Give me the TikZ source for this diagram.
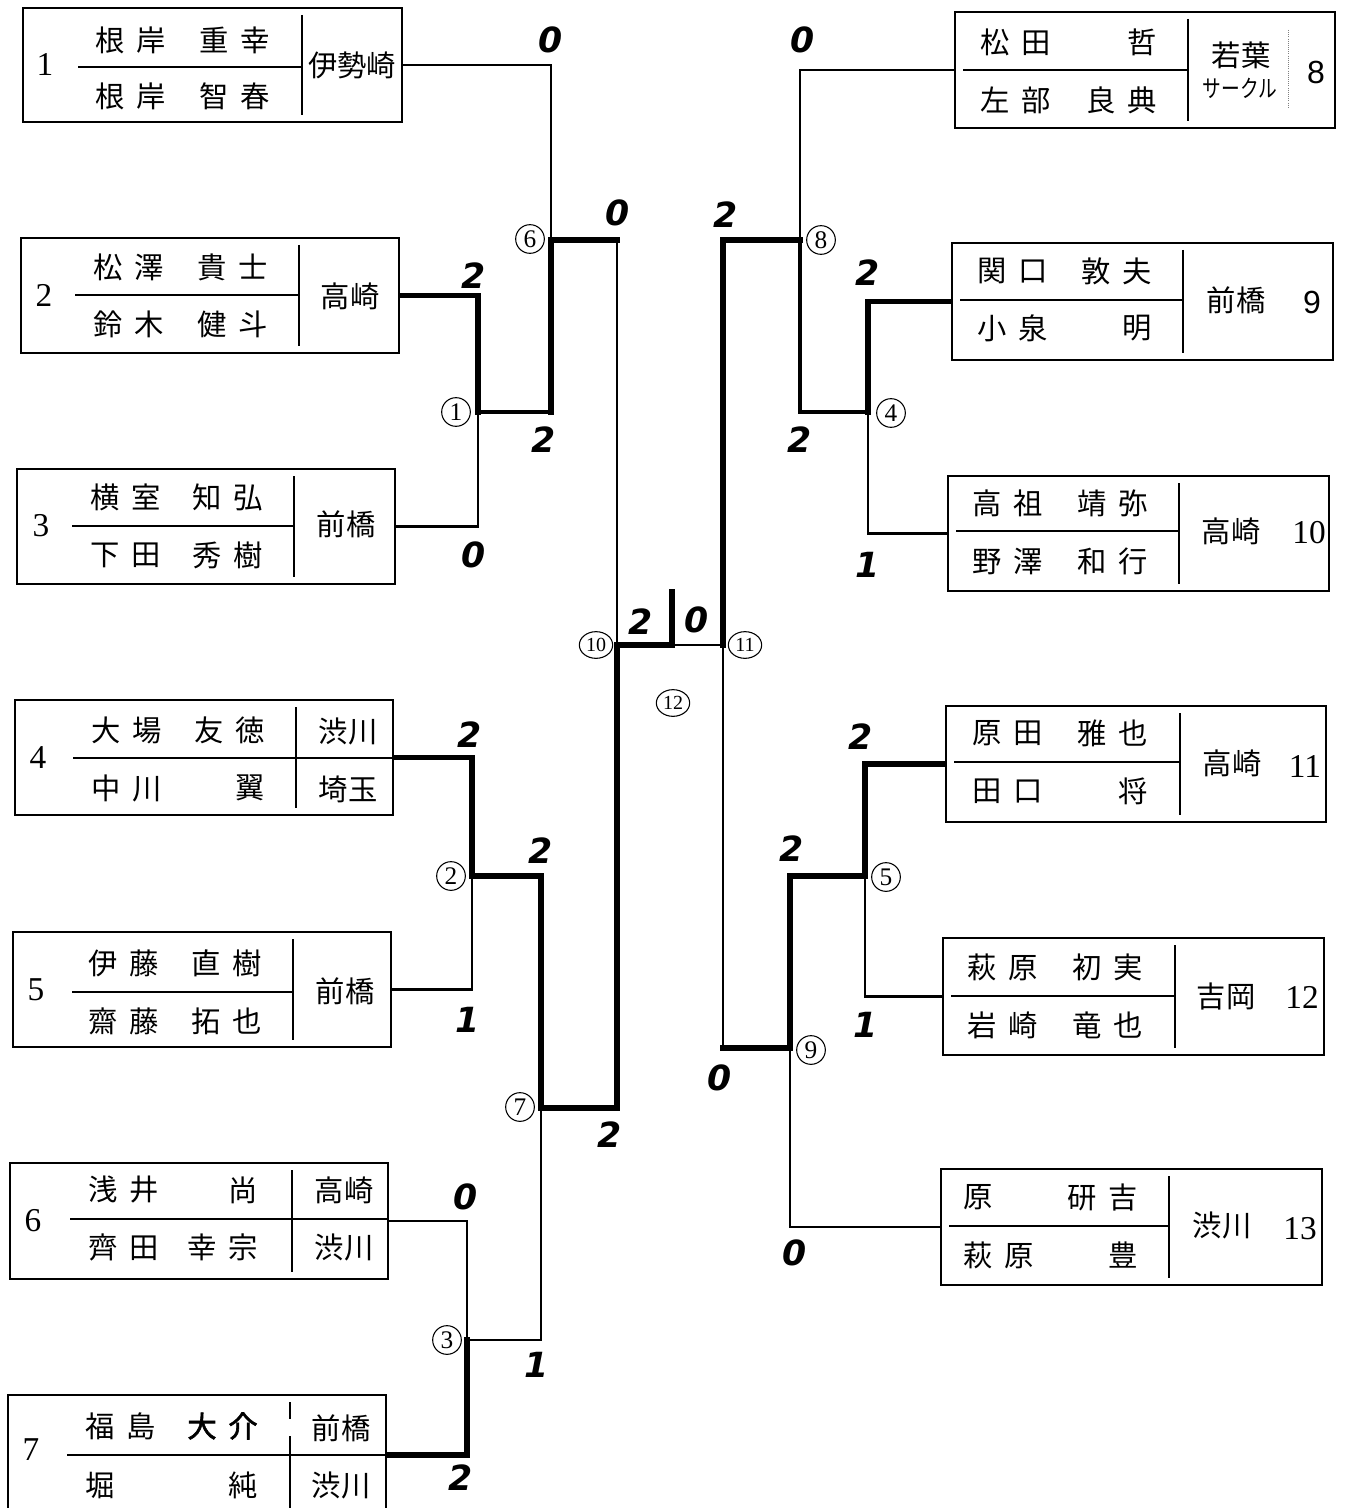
\documentclass[tikz,border=0pt]{standalone}
\usepackage{fontspec}
\usepackage{graphicx}
\usetikzlibrary{fit,shapes.geometric}
\newfontfamily\jp{Noto Sans CJK JP}
\newfontfamily\jpb{Noto Sans CJK JP}[FakeBold=2]
\newfontfamily\scorefont{DejaVu Sans}
\newfontfamily\lsans{Liberation Sans}
\newfontfamily\lserif{Liberation Serif}
\newcommand\jgap{\hspace{0.4em}}
\newcommand\frbox[9]{%
  \node[boxst, fit={(#2,#3) (#4,#5)}] (#1) {};
  \draw[inl] (#8,#7) -- (#9,#7);
  \draw[inl] (#6,#3+7) -- (#6,#5-7);}
\newcommand\plr[6]{%
  \node[nm,anchor=west] (#1s) at (#2,#4) {#5};
  \node[nm,anchor=east] (#1g) at (#3,#4) {#6};}
\begin{document}
\begin{tikzpicture}[x=0.75pt,y=-0.75pt,
  boxst/.style={draw, line width=1.8pt, inner sep=0pt},
  inl/.style={line width=1.8pt},
  thn/.style={line width=1.6pt, line cap=rect},
  med/.style={line width=2.6pt, line cap=rect},
  thk/.style={line width=3.8pt, line cap=rect},
  nm/.style={font=\jp\fontsize{22}{22}\selectfont, inner sep=0pt},
  club/.style={font=\jp\fontsize{22}{22}\selectfont, inner sep=0pt},
  bnum/.style={font=\lserif\fontsize{25}{25}\selectfont, inner sep=0pt},
  snum/.style={font=\lsans\fontsize{24}{24}\selectfont, inner sep=0pt},
  score/.style={font=\scorefont\bfseries\itshape\fontsize{26}{26}\selectfont, inner sep=0pt},
  rnd/.style={circle, draw, line width=0.8pt, inner sep=0pt, minimum size=21.5pt, font=\lserif\fontsize{19}{19}\selectfont},
  rndw/.style={ellipse, draw, line width=0.8pt, inner sep=0pt, minimum width=25pt, minimum height=20pt, font=\lserif\fontsize{15}{15}\selectfont},
]
\fill[white] (0,0) rectangle (1350,1508);
\useasboundingbox (0,0) rectangle (1350,1508);

% ---------- left boxes ----------
\frbox{b1}{23}{8}{402}{122}{302}{67}{78}{302}
\node[bnum] (b1n) at (45,65) {1};
\plr{b1a}{95}{270}{40}{根\jgap 岸}{重\jgap 幸}
\plr{b1b}{95}{270}{96}{根\jgap 岸}{智\jgap 春}
\node[club] (b1c) at (352,65) {伊勢崎};

\frbox{b2}{21}{238}{399}{353}{299}{295}{75}{299}
\node[bnum] (b2n) at (44,295) {2};
\plr{b2a}{93}{268}{267}{松\jgap 澤}{貴\jgap 士}
\plr{b2b}{93}{268}{324}{鈴\jgap 木}{健\jgap 斗}
\node[club] (b2c) at (350,296) {高崎};

\frbox{b3}{17}{469}{395}{584}{294}{526}{72}{294}
\node[bnum] (b3n) at (41,526) {3};
\plr{b3a}{90}{263}{497}{横\jgap 室}{知\jgap 弘}
\plr{b3b}{90}{263}{555}{下\jgap 田}{秀\jgap 樹}
\node[club] (b3c) at (346,524) {前橋};

\frbox{b4}{15}{700}{393}{815}{296}{758}{73}{393}
\node[bnum] (b4n) at (38,758) {4};
\plr{b4a}{91}{265}{730}{大\jgap 場}{友\jgap 徳}
\plr{b4b}{91}{265}{788}{中\jgap 川}{翼}
\node[club] (b4c) at (348,731) {渋川};
\node[club] (b4d) at (348,789) {埼玉};

\frbox{b5}{13}{932}{391}{1047}{293}{992}{72}{293}
\node[bnum] (b5n) at (36,990) {5};
\plr{b5a}{88}{262}{963}{伊\jgap 藤}{直\jgap 樹}
\plr{b5b}{88}{262}{1021}{齋\jgap 藤}{拓\jgap 也}
\node[club] (b5c) at (345,991) {前橋};

\frbox{b6}{10}{1163}{388}{1279}{292}{1219}{70}{388}
\node[bnum] (b6n) at (33,1221) {6};
\plr{b6a}{88}{258}{1190}{浅\jgap 井}{尚}
\plr{b6b}{88}{258}{1247}{齊\jgap 田}{幸\jgap 宗}
\node[club] (b6c) at (344,1190) {高崎};
\node[club] (b6d) at (344,1247) {渋川};

\frbox{b7}{8}{1395}{386}{1515}{290}{1455}{67}{386}
\draw[white, line width=3pt] (290,1419) -- (290,1436);
\node[bnum] (b7n) at (31,1450) {7};
\plr{b7a}{85}{258}{1426}{福\jgap 島}{{\jpb 大\jgap 介}}
\plr{b7b}{85}{258}{1485}{堀}{純}
\node[club] (b7c) at (341,1428) {前橋};
\node[club] (b7d) at (341,1485) {渋川};

% ---------- right boxes ----------
\frbox{b8}{955}{12}{1335}{128}{1188}{70}{963}{1188}
\plr{b8a}{980}{1157}{42}{松\jgap 田}{哲}
\plr{b8b}{980}{1157}{100}{左\jgap 部}{良\jgap 典}
\node[club] (b8c) at (1241,55) {若葉};
\node[inner sep=0pt, font=\jp\fontsize{18}{18}\selectfont] (b8d) at (1240,88) {\scalebox{0.78}[1]{サークル}};
\draw[line width=0.6pt, densely dotted, gray] (1288,30) -- (1288,107);
\node[snum] (b8n) at (1316,72) {8};

\frbox{b9}{952}{243}{1333}{360}{1183}{300}{960}{1183}
\plr{b9a}{977}{1152}{271}{関\jgap 口}{敦\jgap 夫}
\plr{b9b}{977}{1152}{328}{小\jgap 泉}{明}
\node[club] (b9c) at (1236,300) {前橋};
\node[snum] (b9n) at (1312,302) {9};

\frbox{b10}{948}{476}{1329}{591}{1179}{531}{956}{1179}
\plr{b10a}{972}{1148}{503}{高\jgap 祖}{靖\jgap 弥}
\plr{b10b}{972}{1148}{561}{野\jgap 澤}{和\jgap 行}
\node[club] (b10c) at (1231,531) {高崎};
\node[bnum] (b10n) at (1309,533) {10};

\frbox{b11}{946}{706}{1326}{822}{1180}{762}{954}{1180}
\plr{b11a}{972}{1148}{733}{原\jgap 田}{雅\jgap 也}
\plr{b11b}{972}{1148}{791}{田\jgap 口}{将}
\node[club] (b11c) at (1232,763) {高崎};
\node[bnum] (b11n) at (1305,766) {11};

\frbox{b12}{943}{938}{1324}{1055}{1175}{996}{951}{1175}
\plr{b12a}{967}{1143}{967}{萩\jgap 原}{初\jgap 実}
\plr{b12b}{967}{1143}{1025}{岩\jgap 崎}{竜\jgap 也}
\node[club] (b12c) at (1226,996) {吉岡};
\node[bnum] (b12n) at (1302,997) {12};

\frbox{b13}{941}{1169}{1322}{1285}{1169}{1226}{949}{1169}
\plr{b13a}{963}{1138}{1197}{原}{研\jgap 吉}
\plr{b13b}{963}{1138}{1255}{萩\jgap 原}{豊}
\node[club] (b13c) at (1222,1225) {渋川};
\node[bnum] (b13n) at (1300,1229) {13};

% ---------- match points ----------
\coordinate (m1) at (478,412);
\coordinate (m2) at (472,876);
\coordinate (m3) at (467,1340);
\coordinate (m6) at (551,240);
\coordinate (m7) at (541,1108);
\coordinate (m10) at (617,645);
\coordinate (tk) at (672,645);
\coordinate (tkt) at (672,592);
\coordinate (m11) at (723,645);
\coordinate (m8) at (800,240);
\coordinate (m4) at (868,412);
\coordinate (m5) at (865,876);
\coordinate (m9) at (790,1048);
\coordinate (m6b) at (m1 -| m6);
\coordinate (m6o) at (m6 -| m10);
\coordinate (m9o) at (m9 -| m11);

% ---------- left bracket ----------
\draw[thk] (b2.east) -| (m1);
\draw[thn] (b3.east) -| (m1);
\draw[thn] (b1.east) -| (m6);
\draw[med] (m1) -- (m6b);
\draw[thk] (m6b) -- (m6);
\draw[thk] (m6) -- (m6o);
\draw[thn] (m6o) -- (m10);
\draw[thk] (b4.east) -| (m2);
\draw[thn] (b5.east) -| (m2);
\draw[thn] (b6.east) -| (m3);
\draw[thk] (b7.east) -| (m3);
\draw[thk] (m2) -| (m7);
\draw[thn] (m3) -| (m7);
\draw[thk] (m7) -| (m10);
% ---------- final ----------
\draw[thk] (m10) -- (tk);
\draw[thn] (tk) -- (m11);
\draw[thk] (tkt) -- (tk);
% ---------- right bracket ----------
\draw[thk] (m11) |- (m8);
\draw[thk] (m9) -- (m9o);
\draw[thn] (m9o) -- (m11);
\draw[thn] (b8.west) -| (m8);
\draw[med] (m4) -| (m8);
\draw[thk] (b9.west) -| (m4);
\draw[thn] (b10.west) -| (m4);
\draw[thk] (b11.west) -| (m5);
\draw[thn] (b12.west) -| (m5);
\draw[thk] (m5) -| (m9);
\draw[thn] (b13.west) -| (m9);

% ---------- match numbers ----------
\node[rnd] (c1) at (456,412) {1};
\node[rnd] (c2) at (451,876) {2};
\node[rnd] (c3) at (447,1340) {3};
\node[rnd] (c6) at (530,239) {6};
\node[rnd] (c7) at (520,1107) {7};
\node[rndw] (c10) at (596,645) {10};
\node[rndw] (c11) at (745,645) {11};
\node[rndw] (c12) at (673,703) {12};
\node[rnd] (c8) at (821,240) {8};
\node[rnd] (c4) at (891,413) {4};
\node[rnd] (c5) at (886,877) {5};
\node[rnd] (c9) at (811,1050) {9};

% ---------- scores ----------
\node[score] (s1) at (551,40) {0};
\node[score] (s2) at (474,276) {2};
\node[score] (s3) at (474,555) {0};
\node[score] (s4) at (544,440) {2};
\node[score] (s5) at (618,213) {0};
\node[score] (s6) at (470,735) {2};
\node[score] (s7) at (468,1020) {1};
\node[score] (s8) at (541,851) {2};
\node[score] (s9) at (466,1197) {0};
\node[score] (s10) at (461,1478) {2};
\node[score] (s11) at (537,1365) {1};
\node[score] (s12) at (610,1135) {2};
\node[score] (s13) at (641,622) {2};
\node[score] (s14) at (697,620) {0};
\node[score] (s15) at (803,40) {0};
\node[score] (s16) at (726,215) {2};
\node[score] (s17) at (868,273) {2};
\node[score] (s18) at (800,440) {2};
\node[score] (s19) at (868,565) {1};
\node[score] (s20) at (861,737) {2};
\node[score] (s21) at (792,849) {2};
\node[score] (s22) at (866,1025) {1};
\node[score] (s23) at (720,1078) {0};
\node[score] (s24) at (795,1253) {0};
\end{tikzpicture}
\end{document}
